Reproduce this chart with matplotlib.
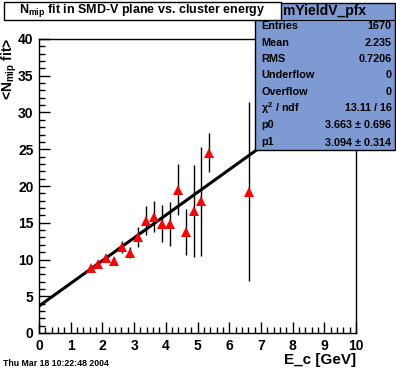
import matplotlib
matplotlib.use("Agg")
import matplotlib.pyplot as plt
import numpy as np
from matplotlib.patches import Rectangle
from matplotlib.ticker import MultipleLocator

plt.rcParams['font.family'] = ['Liberation Sans', 'DejaVu Sans']
plt.rcParams['font.weight'] = 'bold'
plt.rcParams['mathtext.fontset'] = 'custom'
plt.rcParams['mathtext.rm'] = 'Liberation Sans:bold'
plt.rcParams['mathtext.it'] = 'Liberation Sans:bold'
plt.rcParams['mathtext.bf'] = 'Liberation Sans:bold'

# data
energy = [1.625, 1.875, 2.125, 2.375, 2.625, 2.875, 3.125, 3.375, 3.625,
          3.875, 4.125, 4.375, 4.625, 4.875, 5.125, 5.375, 6.625]
nmip = [8.8, 9.35, 10.2, 9.85, 11.7, 10.95, 13.1, 15.3, 15.85,
        14.85, 14.85, 19.5, 13.75, 16.65, 17.9, 24.55, 19.25]
nmip_err = [0.35, 0.35, 0.4, 0.5, 0.75, 0.7, 1.35, 2.0, 2.05,
            2.5, 2.95, 3.5, 3.1, 6.25, 7.4, 2.65, 12.2]
p0, p1 = 3.663, 3.094
stats_labels = ["Entries", "Mean", "RMS", "Underflow", "Overflow",
                r"$\chi^{2}$ / ndf", "p0", "p1"]
stats_values = ["1670", "2.235", "0.7206", "0", "0", "13.11 / 16",
                "3.663 $\\pm$ 0.696", "3.094 $\\pm$ 0.314"]

W, H = 396, 372
fig = plt.figure(figsize=(W / 100, H / 100), dpi=100)
fig.patch.set_facecolor('white')
ax = fig.add_axes([39 / W, 1 - 333 / H, (356 - 39) / W, (333 - 39) / H])

xf = np.array([0.0, 10.0])
ax.plot(xf, p0 + p1 * xf, color='black', lw=2.2, zorder=2)
ax.errorbar(energy, nmip, yerr=nmip_err, fmt='none', ecolor='black',
            elinewidth=1.0, capsize=0, zorder=3)
ax.plot(energy, nmip, linestyle='none', marker='^', color='red',
        markersize=6.5, markeredgewidth=0, zorder=4)

ax.set_xlim(0, 10)
ax.set_ylim(0, 40)
ax.xaxis.set_major_locator(MultipleLocator(1))
ax.xaxis.set_minor_locator(MultipleLocator(0.2))
ax.yaxis.set_major_locator(MultipleLocator(5))
ax.yaxis.set_minor_locator(MultipleLocator(1))
ax.tick_params(which='both', direction='in', top=False, right=False,
               width=1, color='black')
ax.tick_params(which='major', length=8, labelsize=10, pad=4)
ax.tick_params(which='minor', length=4)
for lab in ax.get_xticklabels() + ax.get_yticklabels():
    lab.set_fontweight('bold')
for s in ax.spines.values():
    s.set_linewidth(1.0)

# axis labels
fig.text(356 / W, 1 - 360 / H, "E_c [GeV]", ha='right', va='center',
         fontsize=11, fontweight='bold')
fig.text(9 / W, 1 - 38 / H, r"<N$_{\rm mip}$ fit>", rotation=90,
         ha='center', va='top', fontsize=10, fontweight='bold')
fig.text(3 / W, 1 - 363 / H, "Thu Mar 18 10:22:48 2004", ha='left',
         va='center', fontsize=6.3, fontweight='bold')

# stats box
bx0, bx1, by0, by1 = 255, 395, 3, 150
fig.patches.append(Rectangle((bx0 / W, 1 - by1 / H), (bx1 - bx0) / W,
                             (by1 - by0) / H, transform=fig.transFigure,
                             facecolor='#7d9bd2', edgecolor='black',
                             lw=1.0, zorder=5))
fig.lines.append(plt.Line2D([bx0 / W, bx1 / W], [1 - 20 / H, 1 - 20 / H],
                            transform=fig.transFigure, color='black',
                            lw=0.8, zorder=6))
fig.text(325 / W, 1 - 11.5 / H, "mYieldV_pfx", ha='center', va='center',
         fontsize=10, fontweight='bold', zorder=7)
rows_y = [26, 42.5, 59, 75.5, 92, 108, 124.5, 142]
for lab, val, yy in zip(stats_labels, stats_values, rows_y):
    fig.text(261 / W, 1 - yy / H, lab, ha='left', va='center',
             fontsize=7.8, fontweight='bold', zorder=7)
    fig.text(392 / W, 1 - yy / H, val, ha='right', va='center',
             fontsize=7.8, fontweight='bold', zorder=7)

# title box
fig.patches.append(Rectangle((4 / W, 1 - 20 / H), (281 - 4) / W, 18 / H,
                             transform=fig.transFigure, facecolor='white',
                             edgecolor='black', lw=1.0, zorder=8))
fig.text(142 / W, 1 - 11 / H, r"N$_{\rm mip}$ fit in SMD-V plane vs. cluster energy",
         ha='center', va='center', fontsize=9, fontweight='bold', zorder=9)

fig.savefig("out.png", dpi=100)
